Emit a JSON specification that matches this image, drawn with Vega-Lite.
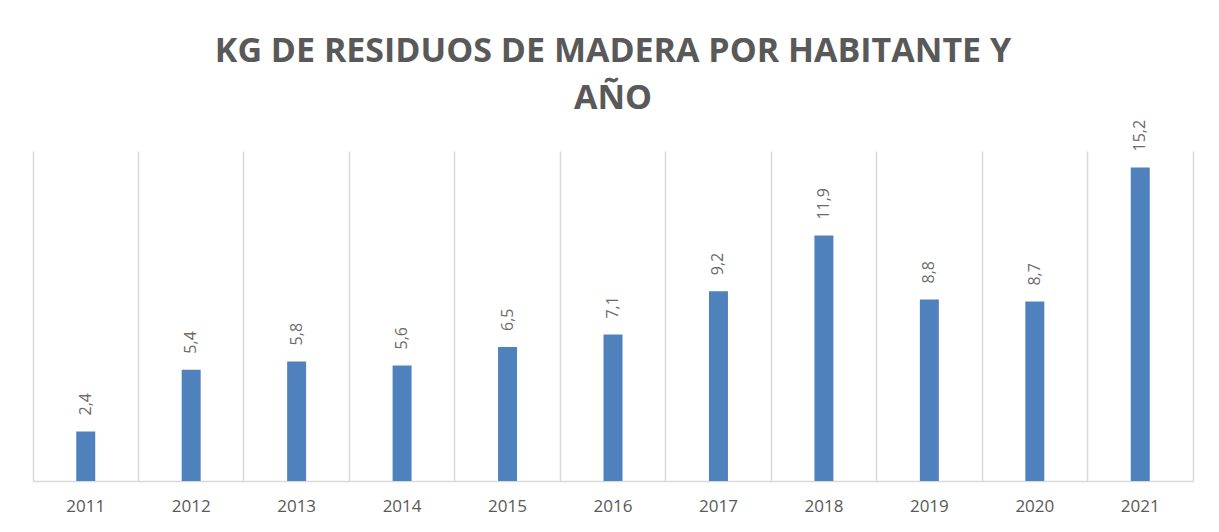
{
  "$schema": "https://vega.github.io/schema/vega-lite/v6.json",
  "width": 1160,
  "height": 330,
  "autosize": "none",
  "padding": {"left": 33, "top": 151, "right": 26, "bottom": 51},
  "background": "white",
  "config": {
    "view": {"stroke": null},
    "font": "Open Sans",
    "locale": {"number": {"decimal": ",", "thousands": ".", "grouping": [3], "currency": ["", " €"]}}
  },
  "title": {
    "text": ["KG DE RESIDUOS DE MADERA POR HABITANTE Y", "AÑO"],
    "anchor": "middle",
    "font": "Open Sans",
    "fontSize": 34,
    "fontWeight": "bold",
    "color": "#595959",
    "lineHeight": 47,
    "offset": 4
  },
  "data": {
    "values": [
      {"year": "2011", "kg": 2.4},
      {"year": "2012", "kg": 5.4},
      {"year": "2013", "kg": 5.8},
      {"year": "2014", "kg": 5.6},
      {"year": "2015", "kg": 6.5},
      {"year": "2016", "kg": 7.1},
      {"year": "2017", "kg": 9.2},
      {"year": "2018", "kg": 11.9},
      {"year": "2019", "kg": 8.8},
      {"year": "2020", "kg": 8.7},
      {"year": "2021", "kg": 15.2}
    ]
  },
  "encoding": {
    "x": {
      "field": "year",
      "type": "nominal",
      "sort": null,
      "scale": {"paddingInner": 0, "paddingOuter": 0},
      "axis": {
        "title": null,
        "labelAngle": 0,
        "labelFont": "Open Sans",
        "labelFontSize": 17,
        "labelColor": "#595959",
        "labelPadding": 17,
        "ticks": false,
        "grid": true,
        "bandPosition": 0,
        "gridColor": "#d9d9d9",
        "gridWidth": 1.5,
        "domainColor": "#d9d9d9",
        "domainWidth": 1.5
      }
    },
    "y": {
      "field": "kg",
      "type": "quantitative",
      "scale": {"domain": [0, 16], "nice": false},
      "axis": {
        "orient": "right",
        "title": null,
        "labels": false,
        "ticks": false,
        "grid": false,
        "domain": true,
        "domainColor": "#d9d9d9",
        "domainWidth": 1.5
      }
    }
  },
  "layer": [
    {
      "mark": {"type": "bar", "width": {"band": 0.18}, "color": "#4f81bd"}
    },
    {
      "mark": {
        "type": "text",
        "angle": 270,
        "align": "left",
        "baseline": "middle",
        "dx": 16,
        "font": "Open Sans",
        "fontSize": 16,
        "color": "#6b6b6b"
      },
      "encoding": {
        "text": {"field": "kg", "type": "quantitative", "format": ".1f"}
      }
    }
  ]
}
